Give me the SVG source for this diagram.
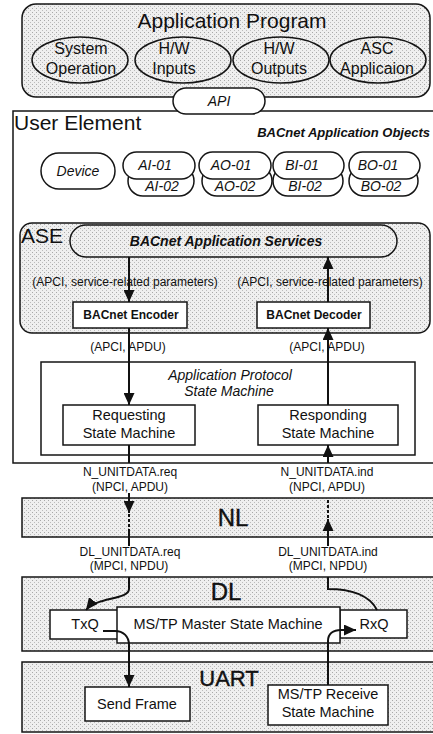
<svg xmlns="http://www.w3.org/2000/svg" width="433" height="734" viewBox="0 0 433 734">
<style>
text{font-family:"Liberation Sans",Arial,sans-serif;fill:#111}
.box{stroke:#151515;stroke-width:1.5;fill:#fff}
.sh{stroke:#151515;stroke-width:1.5;fill:url(#shade)}
.t16{font-size:16px;text-anchor:middle}
.t14{font-size:14.5px;text-anchor:middle}
.it{font-style:italic;font-size:14px;text-anchor:middle}
.bi{font-style:italic;font-weight:bold;text-anchor:middle}
.b12{font-weight:bold;font-size:12px;text-anchor:middle}
.lab{font-size:12px;text-anchor:middle}
.big{font-size:21px}
.lay{font-size:24px;text-anchor:middle;stroke:#111;stroke-width:0.4}
.ln{fill:none;stroke:#111;stroke-width:2}
.arr{marker-end:url(#ah)}
.dash{stroke-dasharray:3 2}
</style>
<defs>
<pattern id="shade" width="4" height="4" patternUnits="userSpaceOnUse">
<rect width="4" height="4" fill="#efefef"/>
<rect x="0" y="0" width="1" height="1" fill="#a8a8a8"/>
<rect x="2" y="2" width="1" height="1" fill="#bcbcbc"/>
</pattern>
<marker id="ah" viewBox="0 0 12 11" refX="12" refY="5.5" markerWidth="12" markerHeight="11" markerUnits="userSpaceOnUse" orient="auto">
<path d="M0,0 L12,5.5 L0,11 z" fill="#111"/>
</marker>
</defs>

<g id="application-program">
<rect class="sh" x="22" y="4" width="408" height="93" rx="14"/>
<text class="big" x="232" y="28" text-anchor="middle">Application Program</text>
</g>
<g id="system-operation">
<ellipse class="sh" cx="80" cy="60" rx="48" ry="23"/>
<text class="t16" x="81" y="54">System</text>
<text class="t16" x="81" y="74">Operation</text>
</g>
<g id="hw-inputs">
<ellipse class="sh" cx="183" cy="60" rx="48" ry="23"/>
<text class="t16" x="174" y="54">H/W</text>
<text class="t16" x="174" y="74">Inputs</text>
</g>
<g id="hw-outputs">
<ellipse class="sh" cx="281" cy="60" rx="48" ry="23"/>
<text class="t16" x="279" y="54">H/W</text>
<text class="t16" x="279" y="74">Outputs</text>
</g>
<g id="asc-application">
<ellipse class="sh" cx="378" cy="60" rx="48" ry="23"/>
<text class="t16" x="377" y="54">ASC</text>
<text class="t16" x="377" y="74">Applicaion</text>
</g>

<g id="user-element">
<rect class="box" x="13" y="111" width="430" height="352"/>
<text class="big" x="14" y="130">User Element</text>
<text class="bi" x="430" y="137" font-size="13" style="text-anchor:end">BACnet Application Objects</text>
</g>

<g id="api">
<rect class="box" x="173" y="88" width="92" height="26" rx="13"/>
<text class="it" x="219" y="106">API</text>
</g>

<g id="device">
<rect class="box" x="41" y="153" width="74" height="36" rx="18"/>
<text class="it" x="78" y="176">Device</text>
</g>
<g id="ai">
<rect class="box" x="128" y="166" width="66" height="30" rx="15"/>
<text class="it" x="162" y="191">AI-02</text>
<rect class="box" x="123" y="152" width="72" height="27" rx="13.5"/>
<text class="it" x="155" y="170">AI-01</text>
</g>
<g id="ao">
<rect class="box" x="202" y="166" width="70" height="30" rx="15"/>
<text class="it" x="235" y="191">AO-02</text>
<rect class="box" x="199" y="152" width="72" height="27" rx="13.5"/>
<text class="it" x="231" y="170">AO-01</text>
</g>
<g id="bi">
<rect class="box" x="273" y="166" width="70" height="30" rx="15"/>
<text class="it" x="305" y="191">BI-02</text>
<rect class="box" x="273" y="152" width="71" height="27" rx="13.5"/>
<text class="it" x="302" y="170">BI-01</text>
</g>
<g id="bo">
<rect class="box" x="349" y="166" width="69" height="30" rx="15"/>
<text class="it" x="381" y="191">BO-02</text>
<rect class="box" x="349" y="152" width="71" height="27" rx="13.5"/>
<text class="it" x="378" y="170">BO-01</text>
</g>

<g id="ase">
<rect class="sh" x="20" y="223" width="410" height="110" rx="12"/>
<text class="big" x="21" y="243">ASE</text>
</g>
<g id="application-services">
<rect class="sh" x="70" y="225" width="327" height="32" rx="16"/>
<text class="bi" x="226" y="246" font-size="14">BACnet Application Services</text>
</g>
<g id="encoder">
<rect class="box" x="73" y="302" width="114" height="26"/>
<text class="b12" x="131" y="319">BACnet Encoder</text>
</g>
<g id="decoder">
<rect class="box" x="257" y="302" width="113" height="26"/>
<text class="b12" x="314" y="319">BACnet Decoder</text>
</g>

<g id="app-protocol-sm">
<rect class="box" x="41" y="362" width="374" height="93"/>
<text class="it" x="230" y="380" font-size="14.5">Application Protocol</text>
<text class="it" x="229" y="396" font-size="14.5">State Machine</text>
</g>
<g id="requesting-sm">
<rect class="box" x="63" y="405" width="132" height="40"/>
<text class="t14" x="129" y="420">Requesting</text>
<text class="t14" x="129" y="438">State Machine</text>
</g>
<g id="responding-sm">
<rect class="box" x="258" y="405" width="140" height="40"/>
<text class="t14" x="328" y="420">Responding</text>
<text class="t14" x="328" y="438">State Machine</text>
</g>

<g id="nl">
<rect class="sh" x="22" y="498" width="420" height="39"/>
<text class="lay" x="233" y="526">NL</text>
</g>

<g id="dl">
<rect class="sh" x="22" y="577" width="420" height="74"/>
<text class="lay" x="226" y="600">DL</text>
</g>
<g id="txq">
<rect class="box" x="50" y="610" width="68" height="29"/>
<text class="t14" x="85" y="629">TxQ</text>
</g>
<g id="rxq">
<rect class="box" x="340" y="610" width="67" height="28"/>
<text class="t14" x="374" y="629">RxQ</text>
</g>
<g id="mstp-master">
<rect class="box" x="117" y="607" width="223" height="36"/>
<text class="t14" x="228" y="629">MS/TP Master State Machine</text>
</g>

<g id="uart">
<rect class="sh" x="22" y="662" width="420" height="70"/>
<text class="lay" x="229" y="686" style="font-size:22px">UART</text>
</g>
<g id="send-frame">
<rect class="box" x="85" y="687" width="105" height="34"/>
<text class="t14" x="137" y="709">Send Frame</text>
</g>
<g id="mstp-receive">
<rect class="box" x="268" y="685" width="120" height="40"/>
<text class="t14" x="328" y="699">MS/TP Receive</text>
<text class="t14" x="328" y="717">State Machine</text>
</g>

<g id="labels">
<text class="lab" x="125" y="286">(APCI, service-related parameters)</text>
<text class="lab" x="330" y="286">(APCI, service-related parameters)</text>
<text class="lab" x="128" y="351">(APCI, APDU)</text>
<text class="lab" x="327" y="351">(APCI, APDU)</text>
<text class="lab" x="130" y="476">N_UNITDATA.req</text>
<text class="lab" x="130" y="491">(NPCI, APDU)</text>
<text class="lab" x="327" y="476">N_UNITDATA.ind</text>
<text class="lab" x="327" y="491">(NPCI, APDU)</text>
<text class="lab" x="130" y="556">DL_UNITDATA.req</text>
<text class="lab" x="129" y="570">(MPCI, NPDU)</text>
<text class="lab" x="328" y="556">DL_UNITDATA.ind</text>
<text class="lab" x="328" y="570">(MPCI, NPDU)</text>
</g>

<g id="connectors">
<path class="ln arr" d="M129,257 V302"/>
<path class="ln arr" d="M129,328 V405"/>
<path class="ln" d="M129,445 V463"/>
<path class="ln arr" d="M129,493 V513"/>
<path class="ln dash" d="M129,514 V530"/>
<path class="ln" d="M129,530 V546"/>
<path class="ln arr" d="M129,577 V589 C129,600 96,597 86,610"/>
<path class="ln arr" d="M103,631 H115 C123,631 129,636 129,645 V687"/>
<path class="ln arr" d="M328,685 V641 C328,634 333,630 341,630 H356"/>
<path class="ln" d="M377,610 C370,596 352,589 328,589 V577"/>
<path class="ln arr" d="M328,546 V519"/>
<path class="ln dash" d="M328,518 V498"/>
<path class="ln arr" d="M328,463 V445"/>
<path class="ln arr" d="M328,405 V328"/>
<path class="ln arr" d="M328,302 V257"/>
</g>
</svg>
